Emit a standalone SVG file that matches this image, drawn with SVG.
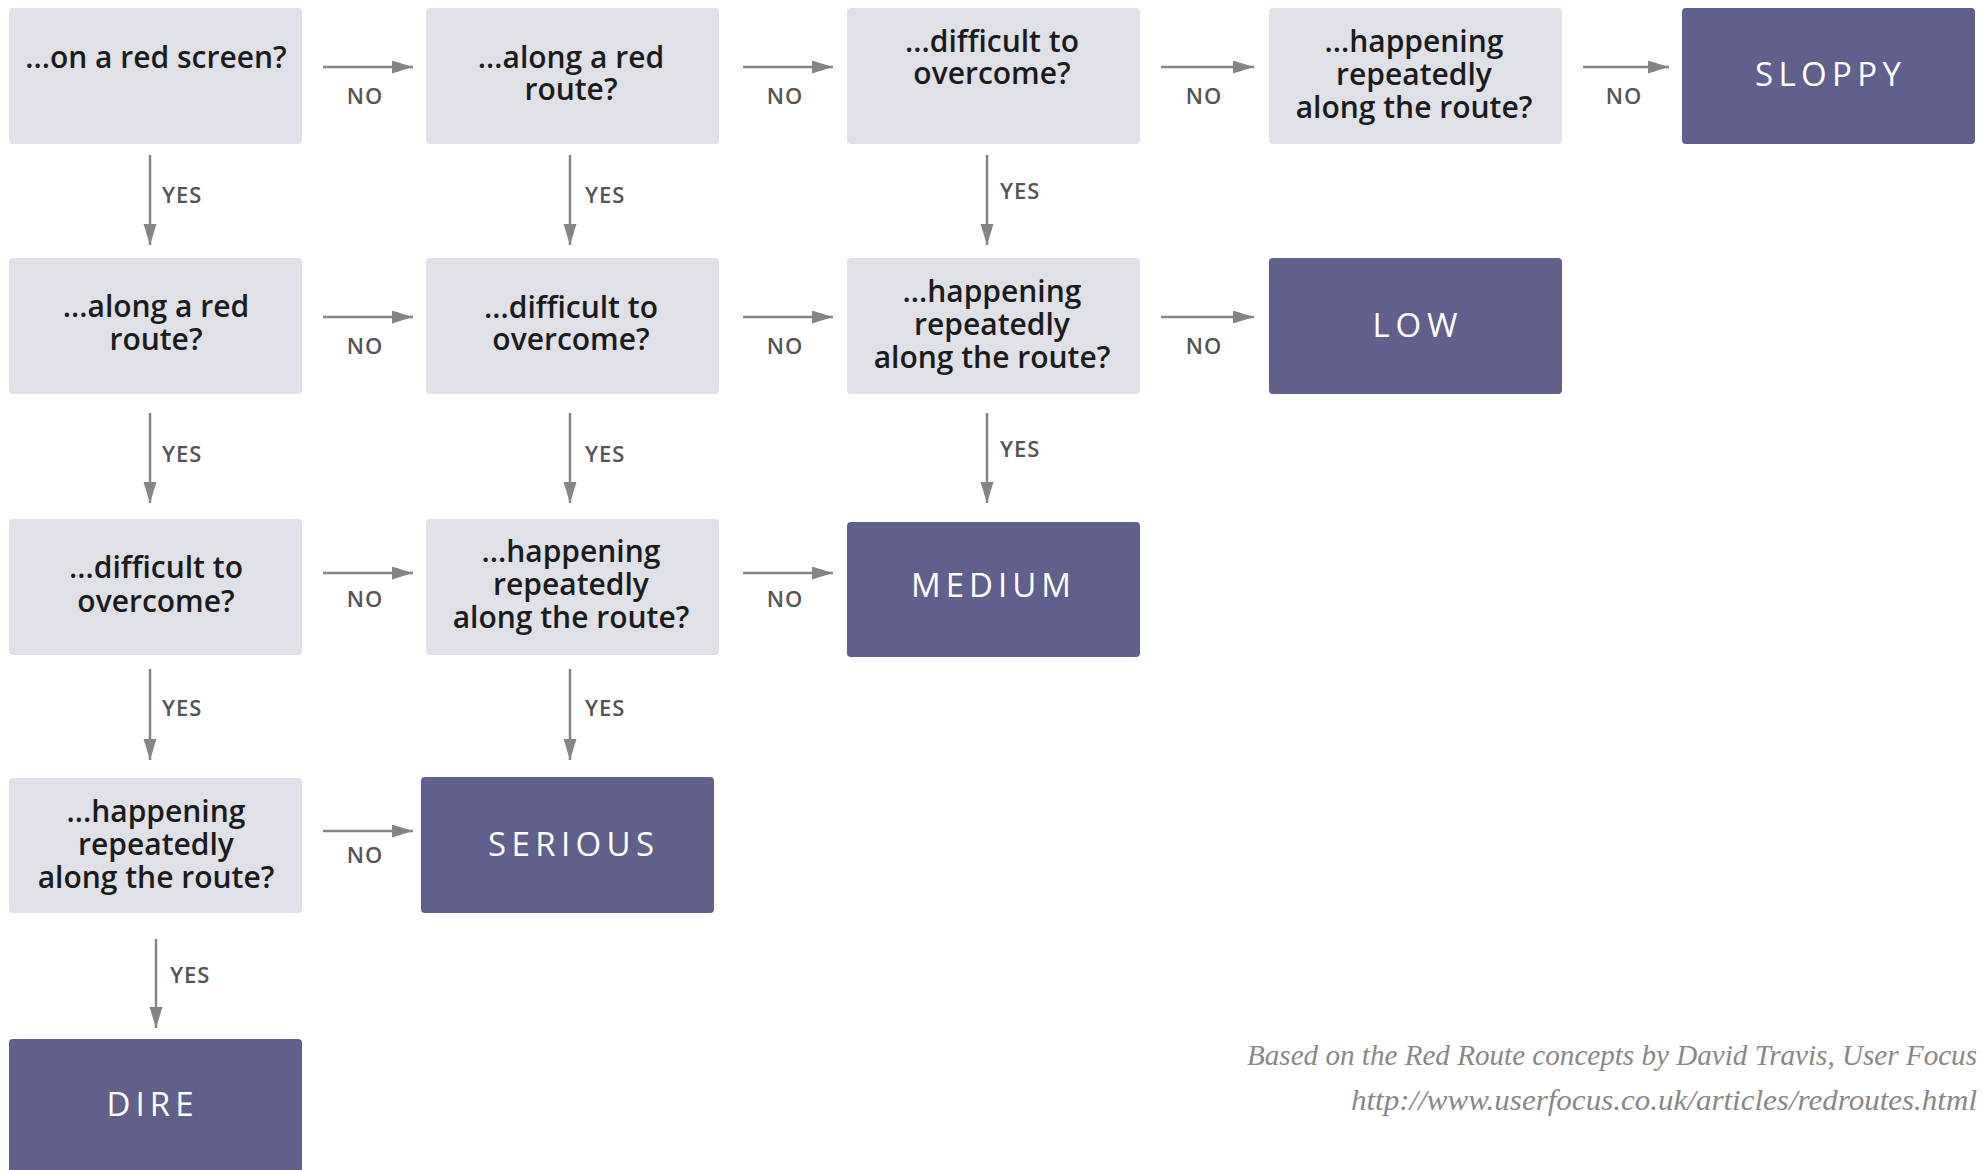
<svg xmlns="http://www.w3.org/2000/svg" width="1983" height="1170" viewBox="0 0 1983 1170">
<defs>
<style>
.q rect{fill:#E0E0E8}
.t rect{fill:#615F8C}
.q text{font-family:"Open Sans","DejaVu Sans",sans-serif;font-size:30px;font-weight:600;fill:#1b1b1b;text-anchor:middle}
.t text{font-family:"Open Sans","DejaVu Sans",sans-serif;font-size:33px;font-weight:500;fill:#ffffff;text-anchor:middle}
.c line{stroke:#858585;stroke-width:2.5;marker-end:url(#ah)}
.c text{font-family:"Open Sans","DejaVu Sans",sans-serif;font-size:22px;font-weight:600;fill:#555555;letter-spacing:1px}
.c .no{text-anchor:middle}
.foot{font-family:"Liberation Serif",serif;font-style:italic;font-size:29px;fill:#888888;text-anchor:end}
</style>
<marker id="ah" markerUnits="userSpaceOnUse" markerWidth="22" markerHeight="14" refX="21" refY="6.5" orient="auto">
<path d="M0,0 L21,6.5 L0,13 z" fill="#858585"/>
</marker>
</defs>
<rect width="1983" height="1170" fill="#ffffff"/>

<g id="connectors" class="c">
<line x1="323" y1="67" x2="413" y2="67"/><text class="no" x="365" y="104">NO</text>
<line x1="743" y1="67" x2="833" y2="67"/><text class="no" x="785" y="104">NO</text>
<line x1="1161" y1="67" x2="1254" y2="67"/><text class="no" x="1204" y="104">NO</text>
<line x1="1583" y1="67" x2="1669" y2="67"/><text class="no" x="1624" y="104">NO</text>
<line x1="323" y1="317" x2="413" y2="317"/><text class="no" x="365" y="354">NO</text>
<line x1="743" y1="317" x2="833" y2="317"/><text class="no" x="785" y="354">NO</text>
<line x1="1161" y1="317" x2="1254" y2="317"/><text class="no" x="1204" y="354">NO</text>
<line x1="323" y1="573" x2="413" y2="573"/><text class="no" x="365" y="607">NO</text>
<line x1="743" y1="573" x2="833" y2="573"/><text class="no" x="785" y="607">NO</text>
<line x1="323" y1="831" x2="413" y2="831"/><text class="no" x="365" y="863">NO</text>
<line x1="150" y1="155" x2="150" y2="245"/><text x="162" y="203">YES</text>
<line x1="150" y1="413" x2="150" y2="503"/><text x="162" y="462">YES</text>
<line x1="150" y1="669" x2="150" y2="760"/><text x="162" y="716">YES</text>
<line x1="156" y1="939" x2="156" y2="1028"/><text x="170" y="983">YES</text>
<line x1="570" y1="155" x2="570" y2="245"/><text x="585" y="203">YES</text>
<line x1="570" y1="413" x2="570" y2="503"/><text x="585" y="462">YES</text>
<line x1="570" y1="669" x2="570" y2="760"/><text x="585" y="716">YES</text>
<line x1="987" y1="155" x2="987" y2="245"/><text x="1000" y="199">YES</text>
<line x1="987" y1="413" x2="987" y2="503"/><text x="1000" y="457">YES</text>
</g>

<g id="q-r1c1" class="q"><rect x="9" y="8" width="293" height="136" rx="4"/>
<text x="156" y="68">...on a red screen?</text></g>
<g id="q-r1c2" class="q"><rect x="426" y="8" width="293" height="136" rx="4"/>
<text x="571" y="68">...along a red</text><text x="571" y="100">route?</text></g>
<g id="q-r1c3" class="q"><rect x="847" y="8" width="293" height="136" rx="4"/>
<text x="992" y="52">...difficult to</text><text x="992" y="84">overcome?</text></g>
<g id="q-r1c4" class="q"><rect x="1269" y="8" width="293" height="136" rx="4"/>
<text x="1414" y="52">...happening</text><text x="1414" y="85">repeatedly</text><text x="1414" y="118">along the route?</text></g>
<g id="t-sloppy" class="t"><rect x="1682" y="8" width="293" height="136" rx="4"/>
<text x="1828" y="86" textLength="146" lengthAdjust="spacing">SLOPPY</text></g>

<g id="q-r2c1" class="q"><rect x="9" y="258" width="293" height="136" rx="4"/>
<text x="156" y="317">...along a red</text><text x="156" y="350">route?</text></g>
<g id="q-r2c2" class="q"><rect x="426" y="258" width="293" height="136" rx="4"/>
<text x="571" y="318">...difficult to</text><text x="571" y="350">overcome?</text></g>
<g id="q-r2c3" class="q"><rect x="847" y="258" width="293" height="136" rx="4"/>
<text x="992" y="302">...happening</text><text x="992" y="335">repeatedly</text><text x="992" y="368">along the route?</text></g>
<g id="t-low" class="t"><rect x="1269" y="258" width="293" height="136" rx="4"/>
<text x="1415" y="337" textLength="85" lengthAdjust="spacing">LOW</text></g>

<g id="q-r3c1" class="q"><rect x="9" y="519" width="293" height="136" rx="4"/>
<text x="156" y="578">...difficult to</text><text x="156" y="612">overcome?</text></g>
<g id="q-r3c2" class="q"><rect x="426" y="519" width="293" height="136" rx="4"/>
<text x="571" y="562">...happening</text><text x="571" y="595">repeatedly</text><text x="571" y="628">along the route?</text></g>
<g id="t-medium" class="t"><rect x="847" y="522" width="293" height="135" rx="4"/>
<text x="991" y="597" textLength="160" lengthAdjust="spacing">MEDIUM</text></g>

<g id="q-r4c1" class="q"><rect x="9" y="778" width="293" height="135" rx="4"/>
<text x="156" y="822">...happening</text><text x="156" y="855">repeatedly</text><text x="156" y="888">along the route?</text></g>
<g id="t-serious" class="t"><rect x="421" y="777" width="293" height="136" rx="4"/>
<text x="571" y="856" textLength="166" lengthAdjust="spacing">SERIOUS</text></g>

<g id="t-dire" class="t"><rect x="9" y="1039" width="293" height="140" rx="4"/>
<text x="150" y="1116" textLength="87" lengthAdjust="spacing">DIRE</text></g>

<g id="footer">
<text class="foot" x="1977" y="1065" textLength="730" lengthAdjust="spacingAndGlyphs">Based on the Red Route concepts by David Travis, User Focus</text>
<text class="foot" x="1977" y="1110" textLength="626" lengthAdjust="spacingAndGlyphs">http://www.userfocus.co.uk/articles/redroutes.html</text>
</g>
</svg>
